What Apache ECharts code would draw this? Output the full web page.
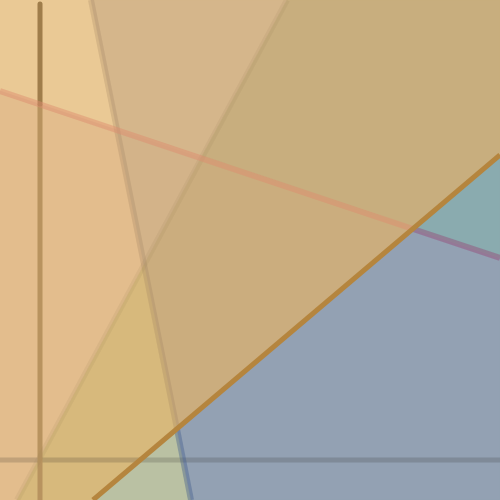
<!DOCTYPE html>
<html>
<head>
<meta charset="utf-8">
<script src="https://cdn.jsdelivr.net/npm/echarts@6/dist/echarts.min.js"></script>
<style>
  html, body { margin: 0; padding: 0; background: #d0b38a; }
  #main { width: 500px; height: 500px; }
</style>
</head>
<body>
<div id="main"></div>
<script>
var chart = echarts.init(document.getElementById("main"))

// the view is one large grid, x 0..500 left to right, y 0..500 top to bottom
// filled regions between the crossing lines (corner points)
var regionTopLeft  = [[0, 0], [91, 0], [117, 130], [0, 91]]
var regionLeft     = [[0, 91], [117, 130], [144, 265], [17, 500], [0, 500]]
var regionTopMid   = [[91, 0], [287, 0], [201, 158], [117, 130]]
var regionWedge    = [[117, 130], [201, 158], [144, 265]]
var regionTopRight = [[287, 0], [500, 0], [500, 155], [413, 229], [201, 158]]
var regionMidRight = [[201, 158], [413, 229], [177, 429], [144, 265]]
var regionLowLeft  = [[144, 265], [177, 429], [93, 500], [17, 500]]
var regionGreen    = [[93, 500], [177, 429], [191, 500]]
var regionBlue     = [[177, 429], [413, 229], [500, 258], [500, 500], [191, 500]]
var regionTeal     = [[413, 229], [500, 155], [500, 258]]

var regions = [regionTopLeft, regionLeft, regionTopMid, regionWedge, regionTopRight,
               regionMidRight, regionLowLeft, regionGreen, regionBlue, regionTeal]
var regionColors = ["#eac995", "#e3bd8d", "#d5b68b", "#d3b389", "#c8ae7e",
                    "#cbad7e", "#d7b97c", "#bac1a3", "#93a1b3", "#8aabaf"]

// strokes
var axisV_top   = [[40, 4], [40, 104]]
var axisV_low   = [[40, 104], [40, 500]]
var axisH       = [[0, 460], [500, 460]]
var lineC       = [[287, 0], [17, 500]]
var lineB       = [[91, 0], [177, 429]]
var lineB_blue  = [[177, 429], [191, 500]]
var lineA       = [[0, 91], [413, 229]]
var lineA_blue  = [[413, 229], [500, 258]]
var lineD       = [[93, 500], [500, 155]]

function stroke(data, color, width, z, cap){
	return {
		type: "line",
		data: data,
		showSymbol: false,
		symbol: "none",
		z: z,
		silent: true,
		lineStyle: { color: color, width: width, cap: cap || "butt" }
	}
}

option = {
	animation: false,
	backgroundColor: "#d0b38a",
	grid: { left: 0, right: 0, top: 0, bottom: 0 },
	xAxis: { type: "value", min: 0, max: 500, show: false },
	yAxis: { type: "value", min: 0, max: 500, inverse: true, show: false },
	series: [
		{
			type: "custom",
			z: 1,
			silent: true,
			data: regions.map(function(r, i){ return [i] }),
			renderItem: function(params, api){
				var idx = api.value(0)
				var pts = regions[idx].map(function(p){ return api.coord(p) })
				return {
					type: "polygon",
					shape: { points: pts },
					style: { fill: regionColors[idx], stroke: regionColors[idx], lineWidth: 0.5 }
				}
			}
		},
		stroke(axisH, "rgba(40,35,35,0.18)", 5, 2),
		stroke(axisV_low, "#b8935f", 5, 3),
		stroke(axisV_top, "#9f7d4b", 5, 3, "round"),
		stroke(lineC, "rgba(150,120,80,0.12)", 6, 4),
		stroke(lineB, "rgba(150,120,90,0.24)", 6, 5),
		stroke(lineB_blue, "rgba(70,95,140,0.42)", 6, 5),
		stroke(lineA, "rgba(222,140,110,0.48)", 6, 6),
		stroke(lineA_blue, "rgba(150,60,110,0.4)", 6, 6),
		stroke(lineD, "#b5853e", 5, 7)
	]
}

chart.setOption(option)
</script>
</body>
</html>
